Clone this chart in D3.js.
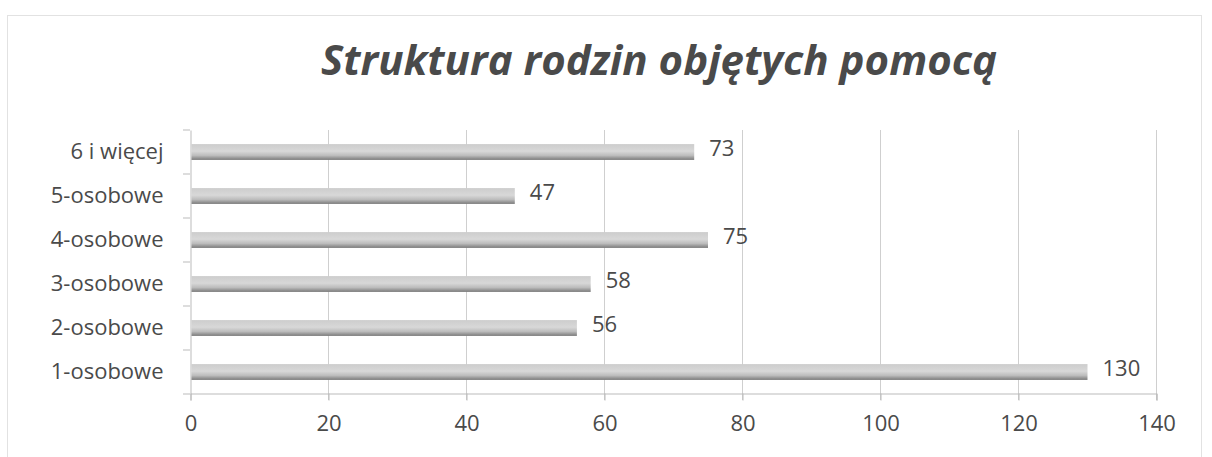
<!DOCTYPE html>
<html>
<head>
<meta charset="utf-8">
<script src="https://cdn.jsdelivr.net/npm/d3@7"></script>
<style>
  body { margin: 0; background: #fff; }
  text { font-family: "Open Sans", "Noto Sans", sans-serif; fill: #4a4a4a; }
</style>
</head>
<body>
<svg id="chart" width="1212" height="457"></svg>
<script>
// chart values, bottom to top as in the picture
var categories = ['1-osobowe', '2-osobowe', '3-osobowe', '4-osobowe', '5-osobowe', '6 i więcej'];
var values = [130, 56, 58, 75, 47, 73];
var ticks = [0, 20, 40, 60, 80, 100, 120, 140];
var title = 'Struktura rodzin objętych pomocą';

var svg = d3.select('#chart');

// gradient for the grey cylinder-like bars
var grad = svg.append('defs').append('linearGradient')
    .attr('id', 'barfill').attr('x1', 0).attr('y1', 0).attr('x2', 0).attr('y2', 1);
grad.append('stop').attr('offset', '0%').attr('stop-color', '#cdcdcd');
grad.append('stop').attr('offset', '45%').attr('stop-color', '#d8d8d8');
grad.append('stop').attr('offset', '72%').attr('stop-color', '#bcbcbc');
grad.append('stop').attr('offset', '100%').attr('stop-color', '#7a7a7a');

// outer dotted frame
svg.append('rect')
    .attr('x', 7.5).attr('y', 15.5).attr('width', 1194).attr('height', 460)
    .attr('fill', 'none').attr('stroke', '#c4c4c4').attr('stroke-dasharray', '1,1');

var x = d3.scaleLinear().domain([0, 140]).range([190.5, 1156.5]);
var y = d3.scaleBand().domain(categories.slice().reverse()).range([130, 394]).paddingInner(0.64).paddingOuter(0.32);
var band = d3.scaleBand().domain(categories.slice().reverse()).range([130, 394]);

// vertical gridlines
svg.append('g').selectAll('line').data(ticks.slice(1)).enter().append('line')
    .attr('x1', function(d){ return x(d); }).attr('x2', function(d){ return x(d); })
    .attr('y1', 130).attr('y2', 400)
    .attr('stroke', '#cfcfcf').attr('stroke-width', 1);

// bottom axis
var xAxis = svg.append('g').attr('transform', 'translate(0,393.5)')
    .call(d3.axisBottom(x).tickValues(ticks).tickSize(7).tickPadding(15));
xAxis.select('.domain').attr('stroke', '#bbb');
xAxis.selectAll('.tick line').attr('stroke', '#bbb');
xAxis.selectAll('text').attr('font-size', 22).attr('fill', '#505050')
    .style('font-family', '"Open Sans", sans-serif');

// left axis
var yAxis = svg.append('g').attr('transform', 'translate(190.5,0)')
    .call(d3.axisLeft(band).tickSize(0).tickPadding(27));
yAxis.select('.domain').attr('stroke', '#bbb');
yAxis.selectAll('text').attr('font-size', 22).attr('fill', '#4a4a4a')
    .style('font-family', '"Open Sans", sans-serif');
svg.append('g').selectAll('line').data(d3.range(categories.length + 1)).enter().append('line')
    .attr('x1', 183).attr('x2', 190)
    .attr('y1', function(d){ return 130 + d * band.step(); })
    .attr('y2', function(d){ return 130 + d * band.step(); })
    .attr('stroke', '#bbb');

// bars
svg.append('g').selectAll('rect').data(values).enter().append('rect')
    .attr('x', x(0) + 1)
    .attr('y', function(d, i){ return y(categories[i]); })
    .attr('width', function(d){ return x(d) - x(0) - 1; })
    .attr('height', y.bandwidth())
    .attr('fill', 'url(#barfill)');

// value labels
svg.append('g').selectAll('text').data(values).enter().append('text')
    .attr('x', function(d){ return x(d) + 15; })
    .attr('y', function(d, i){ return y(categories[i]) + y.bandwidth() / 2; })
    .attr('dy', '0.2em')
    .attr('font-size', 22)
    .text(function(d){ return d; });

// title
svg.append('text')
    .attr('x', 659).attr('y', 75)
    .attr('text-anchor', 'middle')
    .attr('font-size', 42).attr('font-weight', 'bold').attr('font-style', 'italic')
    .attr('fill', '#333')
    .text(title);
</script>
</body>
</html>
